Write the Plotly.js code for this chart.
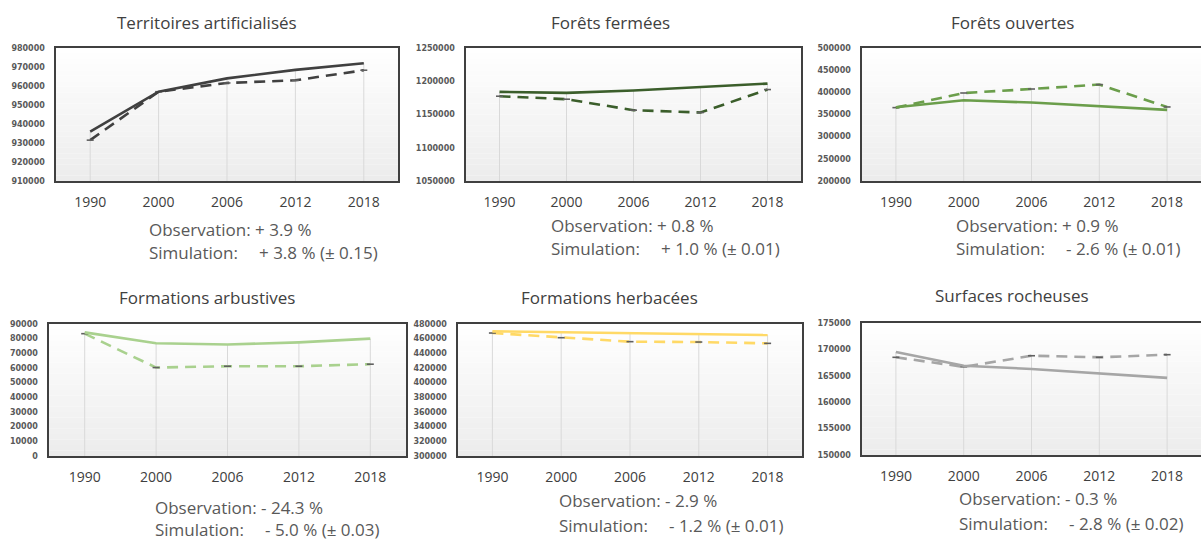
<!DOCTYPE html>
<html><head><meta charset="utf-8">
<script src="https://cdn.plot.ly/plotly-3.0.1.min.js"></script>
<style>html,body{margin:0;padding:0;background:#fff}#chart{width:1201px;height:540px}</style>
</head><body><div id="chart"></div>
<script>
// ---------- DATA ----------
const years = ['1990', '2000', '2006', '2012', '2018'];
const titles = ['Territoires artificialisés', 'Forêts fermées', 'Forêts ouvertes',
                'Formations arbustives', 'Formations herbacées', 'Surfaces rocheuses'];

const territoiresSolid   = [936000, 957000, 964000, 968500, 972000];
const territoiresDashed  = [931500, 957000, 961600, 963000, 968300];
const fermeesSolid       = [1184000, 1182500, 1186000, 1191000, 1196500];
const fermeesDashed      = [1177500, 1173000, 1156500, 1153000, 1187500];
const ouvertesSolid      = [366500, 382000, 377000, 368500, 360500];
const ouvertesDashed     = [365500, 398500, 407500, 417500, 367000];
const arbustivesSolid    = [84300, 76900, 76000, 77500, 80000];
const arbustivesDashed   = [83400, 60300, 61200, 61200, 62600];
const herbaceesSolid     = [470000, 468600, 467200, 466300, 465000];
const herbaceesDashed    = [467700, 461300, 455900, 455400, 453600];
const rocheusesSolid     = [169500, 166900, 166300, 165400, 164600];
const rocheusesDashed    = [168500, 166700, 168800, 168500, 169000];

const observationValues = ['+ 3.9 %', '+ 0.8 %', '+ 0.9 %', '- 24.3 %', '- 2.9 %', '- 0.3 %'];
const simulationValues  = ['+ 3.8 % (± 0.15)', '+ 1.0 % (± 0.01)', '- 2.6 % (± 0.01)',
                           '- 5.0 % (± 0.03)', '- 1.2 % (± 0.01)', '- 2.8 % (± 0.02)'];

const yRanges = [[910000, 980000], [1050000, 1250000], [200000, 500000],
                 [0, 90000], [300000, 480000], [150000, 175000]];
const yDticks = [10000, 50000, 50000, 10000, 20000, 5000];

const solidSeries  = [territoiresSolid, fermeesSolid, ouvertesSolid, arbustivesSolid, herbaceesSolid, rocheusesSolid];
const dashedSeries = [territoiresDashed, fermeesDashed, ouvertesDashed, arbustivesDashed, herbaceesDashed, rocheusesDashed];

// ---------- STYLE / LAYOUT ----------
const W = 1201, H = 540;
const colors = ['#404040', '#3b5e2b', '#6b9e4b', '#a9d18e', '#ffd966', '#a6a6a6'];
// plot boxes in pixels: left, right, top, bottom
const boxes = [
  [56, 398, 48, 181], [466, 801, 48, 181], [862, 1201, 48, 181],
  [49, 406, 324, 456], [458, 802, 324, 456], [862, 1201, 323, 455]
];
const titlePos = [[207, 22], [610, 22], [1012, 22], [207, 297], [609, 297], [1012, 295]];
const textPos = [[147, 229, 252], [549, 225, 248], [954, 225, 248],
                 [153, 507, 529], [557, 500, 525], [957, 498, 523]];
const valueOffset = 110;

const data = [];
const layout = {
  width: W, height: H, margin: {l: 0, r: 0, t: 0, b: 0},
  paper_bgcolor: '#ffffff', plot_bgcolor: 'rgba(0,0,0,0)',
  showlegend: false, annotations: [], shapes: []
};

const textFont = {family: 'Open Sans, sans-serif', size: 17, color: '#595959'};
const titleFont = {family: 'Open Sans, sans-serif', size: 17, color: '#404040'};

function lerpColor(t) {
  const v = Math.round(255 - t * (255 - 236));
  return 'rgb(' + v + ',' + v + ',' + v + ')';
}

for (let i = 0; i < 6; i++) {
  const n = i === 0 ? '' : String(i + 1);
  const xa = 'x' + n, ya = 'y' + n;
  const b = boxes[i];
  layout['xaxis' + n] = {
    domain: [b[0] / W, Math.min(1, b[1] / W)],
    anchor: ya, type: 'category', categoryorder: 'array', categoryarray: years,
    range: [-0.5, 4.5], showgrid: false, zeroline: false,
    showline: true, mirror: true, linecolor: '#404040', linewidth: 1.6,
    ticks: '', ticklabelstandoff: 8,
    tickfont: {family: 'Open Sans, sans-serif', size: 14, color: '#404040'},
    fixedrange: true
  };
  layout['yaxis' + n] = {
    domain: [1 - b[3] / H, 1 - b[2] / H],
    anchor: xa, range: yRanges[i], dtick: yDticks[i], tick0: 0,
    tickformat: 'd', showgrid: false, zeroline: false,
    showline: true, mirror: true, linecolor: '#404040', linewidth: 1.6,
    ticks: '', ticklabelstandoff: 8,
    tickfont: {family: 'DejaVu Sans, sans-serif', size: 8, color: '#595959', weight: 'bold'},
    fixedrange: true
  };

  // gradient background bands
  const N = 24;
  for (let k = 0; k < N; k++) {
    layout.shapes.push({
      type: 'rect', xref: xa + ' domain', yref: ya + ' domain', layer: 'below',
      x0: 0, x1: 1, y0: 1 - (k + 1) / N, y1: 1 - k / N,
      fillcolor: lerpColor((k + 0.5) / N), line: {width: 0}
    });
  }

  // drop lines from axis bottom to highest point of each year
  const dx = [], dy = [];
  years.forEach((yr, j) => {
    dx.push(yr, yr, null);
    dy.push(yRanges[i][0], Math.max(solidSeries[i][j], dashedSeries[i][j]), null);
  });
  data.push({x: dx, y: dy, xaxis: xa, yaxis: ya, mode: 'lines', type: 'scatter',
             line: {color: '#d9d9d9', width: 1}, hoverinfo: 'skip'});

  data.push({x: years, y: dashedSeries[i], xaxis: xa, yaxis: ya, type: 'scatter',
             mode: 'lines+markers',
             line: {color: colors[i], width: 2.6, dash: '11px,7px'},
             marker: {symbol: 'line-ew', size: 5, line: {color: '#606060', width: 1.6}}});
  data.push({x: years, y: solidSeries[i], xaxis: xa, yaxis: ya, type: 'scatter',
             mode: 'lines', line: {color: colors[i], width: 2.6}});

  layout.annotations.push({
    text: titles[i], xref: 'paper', yref: 'paper', showarrow: false,
    x: titlePos[i][0] / W, y: 1 - titlePos[i][1] / H, xanchor: 'center', yanchor: 'middle',
    font: titleFont
  });
  layout.annotations.push({
    text: 'Observation: ' + observationValues[i], xref: 'paper', yref: 'paper', showarrow: false,
    x: textPos[i][0] / W, y: 1 - textPos[i][1] / H, xanchor: 'left', yanchor: 'middle',
    font: textFont
  });
  layout.annotations.push({
    text: 'Simulation:', xref: 'paper', yref: 'paper', showarrow: false,
    x: textPos[i][0] / W, y: 1 - textPos[i][2] / H, xanchor: 'left', yanchor: 'middle',
    font: textFont
  });
  layout.annotations.push({
    text: simulationValues[i], xref: 'paper', yref: 'paper', showarrow: false,
    x: (textPos[i][0] + valueOffset) / W, y: 1 - textPos[i][2] / H, xanchor: 'left', yanchor: 'middle',
    font: textFont
  });
}

Plotly.newPlot('chart', data, layout, {displayModeBar: false, staticPlot: true});
</script>
</body></html>
